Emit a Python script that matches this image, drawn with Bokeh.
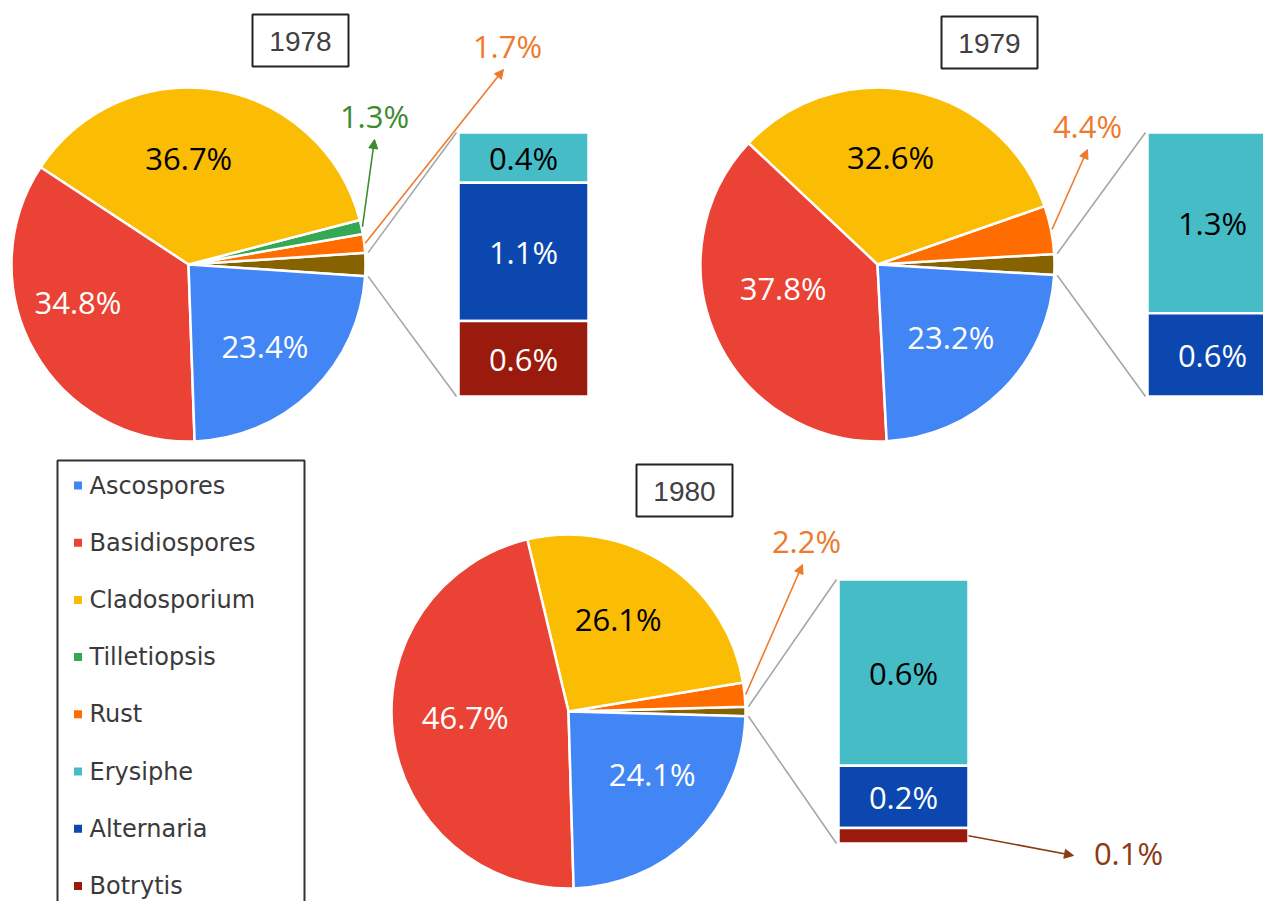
import math
from bokeh.plotting import figure
from bokeh.models import Range1d, Arrow, NormalHead, ColumnDataSource
from bokeh.core.properties import value
from bokeh.embed import file_html
from bokeh.resources import INLINE

# ---------------- data ----------------
categories = ["Ascospores", "Basidiospores", "Cladosporium", "Tilletiopsis",
              "Rust", "Erysiphe", "Alternaria", "Botrytis"]
cat_colors = ["#4285F4", "#EA4335", "#FBBC04", "#34A853",
              "#FF6D01", "#46BDC6", "#0B47AF", "#9A1B0D"]
other_color = "#876200"

years = ["1978", "1979", "1980"]
# pie part: Ascospores, Basidiospores, Cladosporium, Tilletiopsis, Rust
pie_1978 = [23.4, 34.8, 36.7, 1.3, 1.7]
pie_1979 = [23.2, 37.8, 32.6, 0.0, 4.4]
pie_1980 = [24.1, 46.7, 26.1, 0.0, 2.2]
# bar part: Erysiphe, Alternaria, Botrytis
bar_1978 = [0.4, 1.1, 0.6]
bar_1979 = [1.3, 0.6, 0.0]
bar_1980 = [0.6, 0.2, 0.05]
bar_labels_1978 = ["0.4%", "1.1%", "0.6%"]
bar_labels_1979 = ["1.3%", "0.6%", ""]
bar_labels_1980 = ["0.6%", "0.2%", "0.1%"]

# ---------------- layout ----------------
W, H = 1263, 901
def Y(yi):  # image-style y (down) -> data y (up)
    return 909 - yi

p = figure(width=W, height=H, x_range=Range1d(0, W), y_range=Range1d(909 - H, 909),
           output_backend="svg", toolbar_location=None, min_border=0)
p.axis.visible = False
p.grid.visible = False
p.outline_line_color = None
p.background_fill_color = "white"
p.border_fill_color = "white"
p.min_border_left = p.min_border_right = p.min_border_top = p.min_border_bottom = 0

LABEL_FONT = value("Open Sans")
R = 177

panels = [
    dict(year="1978", pie=pie_1978, bar=bar_1978, blab=bar_labels_1978,
         c=(188, 264), box=(300, 40),
         nudge=[(0, 3), (-18, -15), (-17, -2)],
         callouts={3: (374, 115, "#3C8B2E"), 4: (507, 45, "#EE7A2C")}),
    dict(year="1979", pie=pie_1979, bar=bar_1979, blab=bar_labels_1979,
         c=(877, 264), box=(989, 42),
         nudge=[(-4, -5), (2, -21), (-9, -4)],
         callouts={4: (1087, 125, "#EE7A2C")}),
    dict(year="1980", pie=pie_1980, bar=bar_1980, blab=bar_labels_1980,
         c=(568, 711), box=(684, 490),
         nudge=[(6, -15), (2, -8), (-9, -4)],
         callouts={4: (806, 540, "#EE7A2C")}),
]

inner_frac = [0.62, 0.6, 0.6]
inner_text_color = ["white", "white", "black"]

for pn in panels:
    cx, cy_img = pn["c"]
    cy = Y(cy_img)
    pie = pn["pie"]
    bar = pn["bar"]
    other = sum(bar)
    total = sum(pie) + other
    o_ang = other / total * 2 * math.pi

    starts, ends, cols = [], [], []
    # other wedge centred on 3 o'clock
    starts.append(-o_ang / 2); ends.append(o_ang / 2); cols.append(other_color)
    a = o_ang / 2
    mids = {}
    for idx in [4, 3, 2, 1, 0]:
        v = pie[idx]
        if v <= 0:
            continue
        span = v / total * 2 * math.pi
        starts.append(a); ends.append(a + span); cols.append(cat_colors[idx])
        mids[idx] = a + span / 2
        a += span
    src = ColumnDataSource(dict(x=[cx] * len(starts), y=[cy] * len(starts),
                                s=starts, e=ends, c=cols))
    p.wedge(x="x", y="y", radius=R, start_angle="s", end_angle="e",
            fill_color="c", line_color="white", line_width=2.5, source=src)

    # inside labels
    lx, ly, lt, lc = [], [], [], []
    for idx in [0, 1, 2]:
        m = mids[idx]
        f = inner_frac[idx]
        dx, dy = pn["nudge"][idx]
        lx.append(cx + R * f * math.cos(m) + dx)
        ly.append(cy + R * f * math.sin(m) - dy)
        lt.append(f"{pie[idx]:.1f}%")
        lc.append(inner_text_color[idx])
    p.text(x=lx, y=ly, text=lt, text_color=lc, text_align="center",
           text_baseline="middle", text_font=LABEL_FONT, text_font_size="31px")

    # callouts for small slices
    for idx, (tx, ty, col) in pn["callouts"].items():
        m = mids[idx]
        sx = cx + (R + 1) * math.cos(m)
        sy = cy + (R + 1) * math.sin(m)
        p.add_layout(Arrow(end=NormalHead(size=9, fill_color=col, line_color=col),
                           x_start=sx, y_start=sy, x_end=tx - 4 if tx > sx + 60 else tx,
                           y_end=Y(ty) - 24, line_color=col, line_width=1.6))
        p.text(x=[tx], y=[Y(ty)], text=[f"{pie[idx]:.1f}%"], text_color=col,
               text_align="center", text_baseline="middle",
               text_font=LABEL_FONT, text_font_size="31px")

    # stacked bar
    bh = 264
    bl = cx + 270
    br = bl + 130
    top = cy + bh / 2
    scale = bh / other
    qb, qt, qc, tx_, ty_, tt, tc = [], [], [], [], [], [], []
    cur = top
    for j, v in enumerate(bar):
        if v <= 0:
            continue
        hgt = v * scale
        qt.append(cur); qb.append(cur - hgt); qc.append(cat_colors[5 + j])
        if hgt > 25:
            tx_.append((bl + br) / 2); ty_.append(cur - hgt / 2)
            tt.append(pn["blab"][j]); tc.append("black" if j == 0 else "white")
        cur -= hgt
    p.quad(left=bl, right=br, bottom=qb, top=qt, fill_color=qc,
           line_color="white", line_width=2.5)
    p.text(x=tx_, y=ty_, text=tt, text_color=tc, text_align="center",
           text_baseline="middle", text_font=LABEL_FONT, text_font_size="31px")

    # connectors from other wedge to bar
    ux = cx + (R + 3) * math.cos(o_ang / 2)
    uy = cy + (R + 3) * math.sin(o_ang / 2)
    p.segment(x0=[ux, ux], y0=[uy, cy - (uy - cy)], x1=[bl - 2, bl - 2],
              y1=[top, top - bh], line_color="#A6A6A6", line_width=1.6)

    # small-value callout for the bar (1980 Botrytis)
    if pn["year"] == "1980":
        bv = bar[2] * scale
        ymid = top - bh + bv / 2
        col = "#8B3A12"
        p.add_layout(Arrow(end=NormalHead(size=9, fill_color=col, line_color=col),
                           x_start=br, y_start=ymid, x_end=br + 105, y_end=Y(855),
                           line_color=col, line_width=1.6))
        p.text(x=[1128], y=[Y(852)], text=[pn["blab"][2]], text_color=col,
               text_align="center", text_baseline="middle",
               text_font=LABEL_FONT, text_font_size="31px")

    # year box
    bx, by = pn["box"]
    p.quad(left=bx - 48, right=bx + 48, bottom=Y(by + 26), top=Y(by - 26),
           fill_color="white", line_color="#222222", line_width=2)
    p.text(x=[bx], y=[Y(by + 1)], text=[pn["year"]], text_color="#404040",
           text_align="center", text_baseline="middle",
           text_font=value("Liberation Sans"), text_font_size="28px")

# ---------------- legend ----------------
p.quad(left=57, right=304, bottom=Y(940), top=Y(460), fill_color="white",
       line_color="#333333", line_width=2)
ly0 = 485
step = 57.2
leg_y = [Y(ly0 + i * step) for i in range(len(categories))]
p.scatter(x=[77.5] * len(categories), y=leg_y, marker="square", size=8,
          fill_color=cat_colors, line_color=None)
p.text(x=[89] * len(categories), y=leg_y, text=categories, text_color="#3A3A3A",
       text_align="left", text_baseline="middle",
       text_font=value("DejaVu Sans"), text_font_size="24px")

open("out.html", "w").write(file_html(p, INLINE))
